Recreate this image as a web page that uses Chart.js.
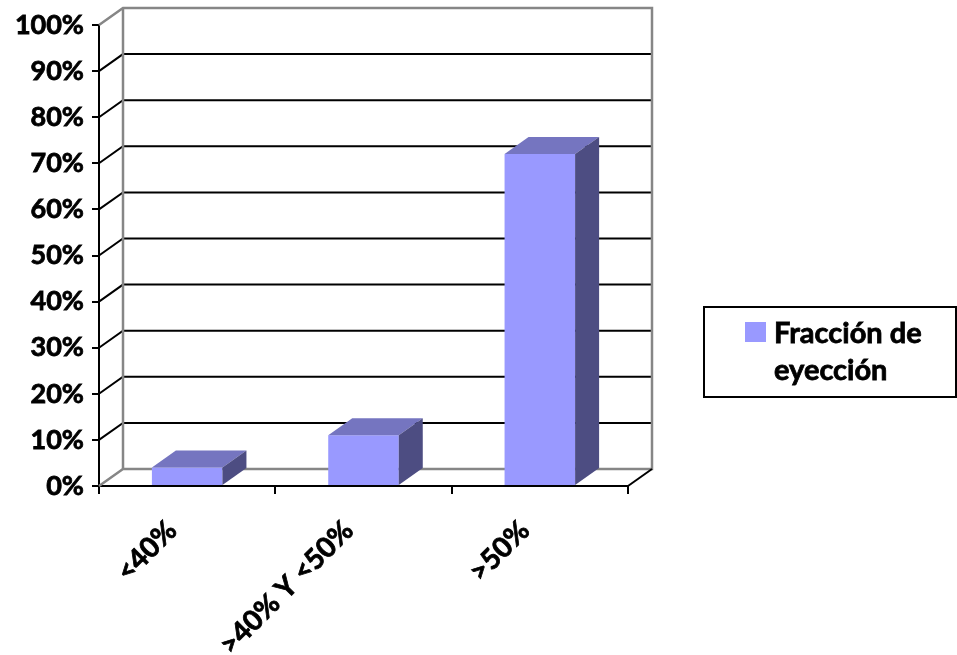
<!DOCTYPE html>
<html>
<head>
<meta charset="utf-8">
<script src="https://cdn.jsdelivr.net/npm/chart.js@4"></script>
<style>
  html, body { margin: 0; padding: 0; background: #fff; }
  #wrap { width: 957px; height: 655px; position: relative; }
</style>
</head>
<body>
<div id="wrap"><canvas id="fraccion"></canvas></div>
<script>
// data
const categories = ['<40%', '>40% Y <50%', '>50%'];
const values = [4, 11, 72];
const legendLines = ['Fracción de', 'eyección'];
const yTicks = [0, 10, 20, 30, 40, 50, 60, 70, 80, 90, 100];

const FONT = 'Lato, "Open Sans", sans-serif';
const DX = 24, DY = -17; // depth of the 3d box
const FRONT = '#9999FF', TOP = '#7575C0', SIDE = '#4D4D82';
const WALL = '#868686';

function line(ctx, pts, color, w) {
    ctx.beginPath();
    ctx.moveTo(pts[0][0], pts[0][1]);
    for (let i = 1; i < pts.length; i++) ctx.lineTo(pts[i][0], pts[i][1]);
    ctx.strokeStyle = color;
    ctx.lineWidth = w;
    ctx.stroke();
}

function poly(ctx, pts, color) {
    ctx.beginPath();
    ctx.moveTo(pts[0][0], pts[0][1]);
    for (let i = 1; i < pts.length; i++) ctx.lineTo(pts[i][0], pts[i][1]);
    ctx.closePath();
    ctx.fillStyle = color;
    ctx.fill();
}

// back wall, side wall and floor with the gridlines
const walls = {
    id: 'walls',
    beforeDatasetsDraw(chart) {
        const ctx = chart.ctx;
        const { left, right, top, bottom } = chart.chartArea;
        const y = chart.scales.y;
        ctx.save();
        yTicks.forEach(v => {
            if (v === 0 || v === 100) return;
            const yy = y.getPixelForValue(v);
            line(ctx, [[left, yy], [left + DX, yy + DY], [right + DX, yy + DY]], '#000', 2);
        });
        line(ctx, [[left, top], [left + DX, top + DY], [right + DX, top + DY],
                   [right + DX, bottom + DY], [left + DX, bottom + DY], [left, bottom]], WALL, 2.5);
        line(ctx, [[left + DX, top + DY], [left + DX, bottom + DY]], WALL, 2.5);
        line(ctx, [[right, bottom], [right + DX, bottom + DY]], '#000', 2);
        ctx.restore();
    },
    afterDatasetsDraw(chart) {
        const ctx = chart.ctx;
        const meta = chart.getDatasetMeta(0);
        ctx.save();
        meta.data.forEach(bar => {
            const xl = bar.x - bar.width / 2, xr = bar.x + bar.width / 2;
            const yt = bar.y, yb = bar.base;
            poly(ctx, [[xl, yt], [xr, yt], [xr + DX, yt + DY], [xl + DX, yt + DY]], TOP);
            poly(ctx, [[xr, yt], [xr + DX, yt + DY], [xr + DX, yb + DY], [xr, yb]], SIDE);
        });
        ctx.restore();
    },
    afterDraw(chart) {
        // legend box on the right
        const ctx = chart.ctx;
        ctx.save();
        ctx.strokeStyle = '#000';
        ctx.lineWidth = 2;
        ctx.strokeRect(704, 307, 252, 90);
        ctx.fillStyle = FRONT;
        ctx.fillRect(745, 322, 21, 20);
        ctx.fillStyle = '#000';
        ctx.strokeStyle = '#000';
        ctx.lineWidth = 0.8;
        ctx.font = 'bold 29px ' + FONT;
        ctx.textBaseline = 'alphabetic';
        legendLines.forEach((t, i) => {
            ctx.strokeText(t, 774, 343 + i * 37);
            ctx.fillText(t, 774, 343 + i * 37);
        });
        ctx.restore();
    }
};

const tickFont = { family: FONT, size: 27, weight: 'bold' };

new Chart(document.getElementById('fraccion').getContext('2d'), {
    type: 'bar',
    data: {
        labels: categories,
        datasets: [{
            label: 'Fracción de eyección',
            data: values,
            backgroundColor: FRONT,
            borderWidth: 0,
            barPercentage: 0.4,
            categoryPercentage: 1.0
        }]
    },
    options: {
        responsive: true,
        maintainAspectRatio: false,
        animation: false,
        layout: { padding: { left: 0, top: 25, right: 329, bottom: 0 } },
        plugins: {
            legend: { display: false },
            tooltip: { enabled: false }
        },
        scales: {
            y: {
                min: 0,
                max: 100,
                afterFit(scale) { scale.width = 99; },
                ticks: {
                    stepSize: 10,
                    padding: 8,
                    color: '#000',
                    textStrokeColor: '#000',
                    textStrokeWidth: 0.8,
                    font: tickFont,
                    callback: v => v + '%'
                },
                grid: { drawOnChartArea: false, tickLength: 7, color: '#000', lineWidth: 2 },
                border: { color: '#000', width: 2 }
            },
            x: {
                afterFit(scale) { scale.height = 169; },
                ticks: {
                    minRotation: 45,
                    maxRotation: 45,
                    autoSkip: false,
                    padding: 20,
                    labelOffset: -15,
                    color: '#000',
                    textStrokeColor: '#000',
                    textStrokeWidth: 0.8,
                    font: { family: FONT, size: 28, weight: 'bold' }
                },
                grid: { offset: true, drawOnChartArea: false, tickLength: 8, color: '#000', lineWidth: 2 },
                border: { color: '#000', width: 2 }
            }
        }
    },
    plugins: [walls]
});
</script>
</body>
</html>
